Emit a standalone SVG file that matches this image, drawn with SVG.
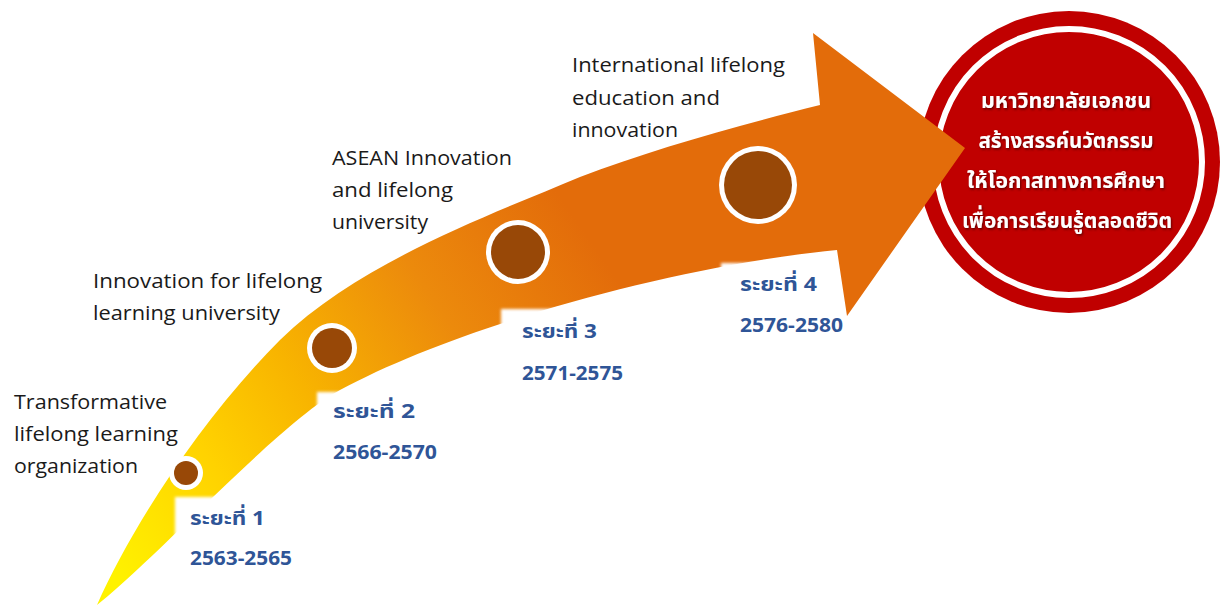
<svg xmlns="http://www.w3.org/2000/svg" width="1224" height="606" viewBox="0 0 1224 606">
<defs>
<linearGradient id="arrowGrad" gradientUnits="userSpaceOnUse" x1="110" y1="570" x2="590" y2="240">
<stop offset="0" stop-color="#FFF200"/>
<stop offset="0.25" stop-color="#FFD200"/>
<stop offset="0.45" stop-color="#F8B400"/>
<stop offset="0.72" stop-color="#EC8A0C"/>
<stop offset="1" stop-color="#E36C0A"/>
</linearGradient>
<filter id="soft" x="-10%" y="-10%" width="120%" height="120%"><feGaussianBlur stdDeviation="1.5"/></filter>
<filter id="tshadow" x="-10%" y="-30%" width="120%" height="160%"><feDropShadow dx="1" dy="1.5" stdDeviation="1" flood-color="#4a0000" flood-opacity="0.8"/></filter>
<style>
.lab{font-family:"Open Sans","Noto Sans","DejaVu Sans",sans-serif;font-size:20px;fill:#1a1a1a}
.per{font-family:"Noto Sans Thai","Noto Sans","DejaVu Sans",sans-serif;font-size:20px;font-weight:bold;fill:#2F5597}
.goal{font-family:"Noto Sans Thai","Noto Sans","DejaVu Sans",sans-serif;font-size:22px;font-weight:bold;fill:#ffffff;text-anchor:middle}
.ring{fill:#FFFFFF}
.dot{fill:#984807}
</style>
</defs>
<g id="goal">
<circle cx="1069" cy="162" r="151" fill="#C00000"/>
<circle cx="1069" cy="162" r="133" fill="none" stroke="#FFFFFF" stroke-width="6"/>
<g filter="url(#tshadow)">
<text class="goal" x="1066" y="108" textLength="170" lengthAdjust="spacingAndGlyphs">มหาวิทยาลัยเอกชน</text>
<text class="goal" x="1066" y="148" textLength="175" lengthAdjust="spacingAndGlyphs">สร้างสรรค์นวัตกรรม</text>
<text class="goal" x="1066" y="188" textLength="198" lengthAdjust="spacingAndGlyphs">ให้โอกาสทางการศึกษา</text>
<text class="goal" x="1067" y="228" textLength="210" lengthAdjust="spacingAndGlyphs">เพื่อการเรียนรู้ตลอดชีวิต</text>
</g>
</g>
<g id="connectors">
<path id="arrow" fill="url(#arrowGrad)" d="M97,605 C130,530 200,420 280,340 C360,262 490,215 580,177 C650,150 740,125 820,105 L813,33 L965,148 L847,316 L837,250 C680,265 460,325 340,390 C280,422 160,555 97,605 Z"/>
</g>
<g id="boxes" fill="#FFFFFF" filter="url(#soft)">
<rect x="175" y="497" width="126" height="88"/>
<rect x="317" y="392" width="137" height="78"/>
<rect x="501" y="309" width="140" height="85"/>
<rect x="721" y="263" width="115" height="80"/>
</g>
<g id="stage1">
<circle class="ring" cx="186" cy="473" r="17"/>
<circle class="dot" cx="186" cy="473" r="12"/>
<text class="lab" x="14" y="409" textLength="153" lengthAdjust="spacingAndGlyphs">Transformative</text>
<text class="lab" x="14" y="441" textLength="164" lengthAdjust="spacingAndGlyphs">lifelong learning</text>
<text class="lab" x="14" y="473" textLength="124" lengthAdjust="spacingAndGlyphs">organization</text>
<text class="per" x="190" y="525" textLength="75" lengthAdjust="spacingAndGlyphs">ระยะที่ 1</text>
<text class="per" x="190" y="565" textLength="102" lengthAdjust="spacingAndGlyphs">2563-2565</text>
</g>
<g id="stage2">
<circle class="ring" cx="332" cy="348" r="25"/>
<circle class="dot" cx="332" cy="348" r="20"/>
<text class="lab" x="93" y="288" textLength="229" lengthAdjust="spacingAndGlyphs">Innovation for lifelong</text>
<text class="lab" x="93" y="320" textLength="187" lengthAdjust="spacingAndGlyphs">learning university</text>
<text class="per" x="333" y="418" textLength="82" lengthAdjust="spacingAndGlyphs">ระยะที่ 2</text>
<text class="per" x="333" y="459" textLength="104" lengthAdjust="spacingAndGlyphs">2566-2570</text>
</g>
<g id="stage3">
<circle class="ring" cx="518" cy="252" r="32"/>
<circle class="dot" cx="518" cy="252" r="27"/>
<text class="lab" x="332" y="165" textLength="180" lengthAdjust="spacingAndGlyphs">ASEAN Innovation</text>
<text class="lab" x="332" y="197" textLength="121" lengthAdjust="spacingAndGlyphs">and lifelong</text>
<text class="lab" x="332" y="229" textLength="96" lengthAdjust="spacingAndGlyphs">university</text>
<text class="per" x="522" y="338" textLength="75" lengthAdjust="spacingAndGlyphs">ระยะที่ 3</text>
<text class="per" x="522" y="380" textLength="101" lengthAdjust="spacingAndGlyphs">2571-2575</text>
</g>
<g id="stage4">
<circle class="ring" cx="758" cy="185" r="39"/>
<circle class="dot" cx="758" cy="185" r="34"/>
<text class="lab" x="572" y="72" textLength="213" lengthAdjust="spacingAndGlyphs">International lifelong</text>
<text class="lab" x="572" y="105" textLength="148" lengthAdjust="spacingAndGlyphs">education and</text>
<text class="lab" x="572" y="137" textLength="106" lengthAdjust="spacingAndGlyphs">innovation</text>
<text class="per" x="740" y="291" textLength="77" lengthAdjust="spacingAndGlyphs">ระยะที่ 4</text>
<text class="per" x="740" y="332" textLength="103" lengthAdjust="spacingAndGlyphs">2576-2580</text>
</g>
</svg>
